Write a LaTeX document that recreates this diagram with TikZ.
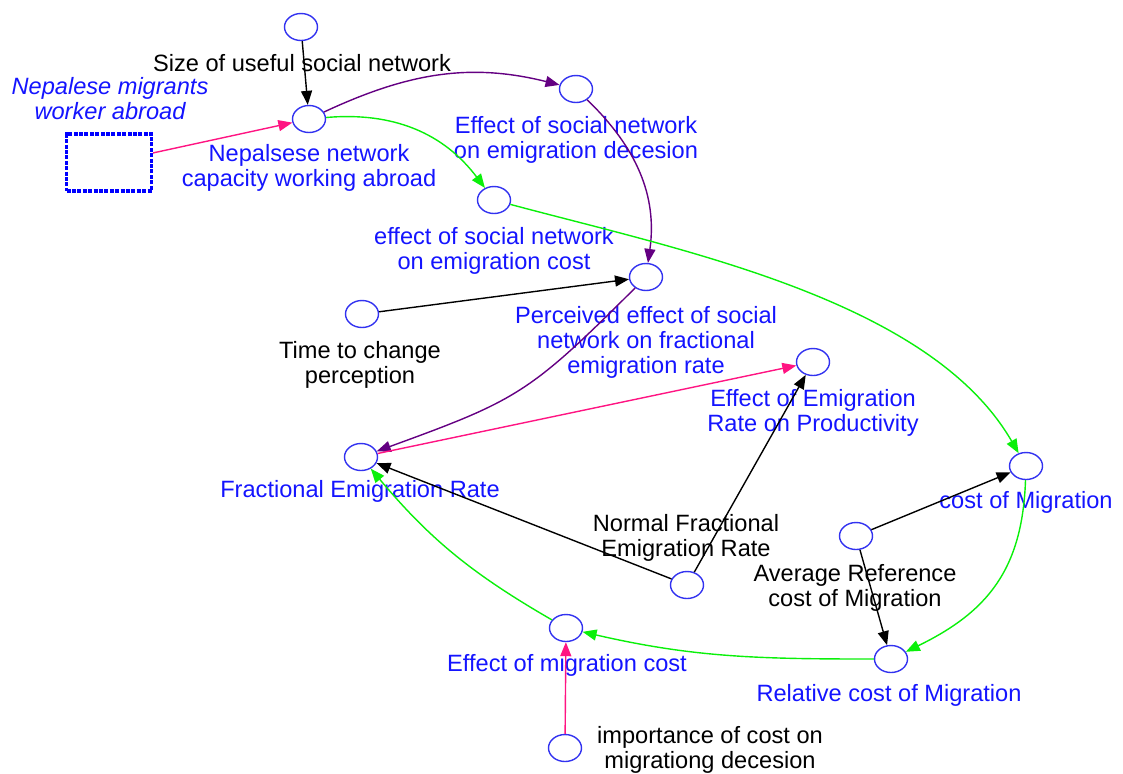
\documentclass[tikz,border=0pt]{standalone}
\usepackage{fontspec}
\setmainfont{Liberation Sans}
\usepgflibrary{shapes.geometric}
\usetikzlibrary{calc,arrows.meta}
\definecolor{txtblue}{RGB}{20,20,255}
\definecolor{auxblue}{RGB}{50,50,240}
\definecolor{lgreen}{RGB}{10,240,10}
\definecolor{lpink}{RGB}{255,20,130}
\definecolor{lpurple}{RGB}{100,0,130}

\begin{document}
\begin{tikzpicture}[x=0.5pt,y=0.5pt,>={Triangle[length=7pt,width=5.5pt]},
	aux/.style={ellipse,draw=auxblue,line width=0.7pt,minimum width=16.5pt,minimum height=13.5pt,inner sep=0pt},
	lab/.style={align=center,inner sep=0pt,text=txtblue,font=\fontsize{11.8}{12.5}\selectfont},
	blab/.style={lab,text=black},
	lnk/.style={->,line width=0.7pt}]
	\useasboundingbox (0,0) rectangle (1123,-773);
	% auxiliaries
	\node[aux] (size) at (301,-27) {};
	\node[aux] (nep) at (309,-119) {};
	\node[aux] (dec) at (576,-89) {};
	\node[aux] (effcost) at (494,-200) {};
	\node[aux] (perc) at (646,-277) {};
	\node[aux] (time) at (362,-314) {};
	\node[aux] (prod) at (813,-362) {};
	\node[aux] (frac) at (361,-457) {};
	\node[aux] (com) at (1026,-466) {};
	\node[aux] (avg) at (856,-536) {};
	\node[aux] (norm) at (687,-585) {};
	\node[aux] (effmc) at (566,-628) {};
	\node[aux] (rel) at (891,-659) {};
	\node[aux] (imp) at (565,-748) {};
	% stock
	\node[draw=blue,line width=1.6pt,dash pattern=on 2pt off 0.7pt,minimum width=42.5pt,minimum height=28.5pt,inner sep=0pt] (stock) at (109,-162.5) {};
	% labels
	\node[blab] (sizeL) at (302,-63) {Size of useful social network};
	\node[lab] (nepL) at (309,-167.5) {Nepalsese network\\capacity working abroad};
	\node[lab,font=\fontsize{11.8}{12.5}\selectfont\itshape] (stockL) at (110,-99) {Nepalese migrants\\worker abroad};
	\node[lab] (decL) at (576,-139.5) {Effect of social network\\on emigration decesion};
	\node[lab] (effcostL) at (494,-250.5) {effect of social network\\on emigration cost};
	\node[lab] (percL) at (646,-342) {Perceived effect of social\\network on fractional\\emigration rate};
	\node[blab] (timeL) at (360,-364.5) {Time to change\\perception};
	\node[lab] (prodL) at (813,-412.5) {Effect of Emigration\\Rate on Productivity};
	\node[lab] (fracL) at (360,-491) {Fractional Emigration Rate};
	\node[lab] (comL) at (1026,-502) {cost of Migration};
	\node[blab] (avgL) at (855,-588) {Average Reference\\cost of Migration};
	\node[blab] (normL) at (686,-537.5) {Normal Fractional\\Emigration Rate};
	\node[lab] (effmcL) at (567,-665) {Effect of migration cost};
	\node[lab] (relL) at (889,-695) {Relative cost of Migration};
	\node[blab] (impL) at (710,-750) {importance of cost on\\migrationg decesion};
	% links
	\draw[lnk] (size) -- (nep);
	\draw[lnk,lpink] (stock) -- (nep);
	\draw[lnk,lpurple] (nep) to[out=25,in=166] (dec);
	\draw[lnk,lgreen] (nep) to[out=5,in=127] (effcost);
	\draw[lnk,lpurple] (dec) to[out=-44,in=82] (perc);
	\draw[lnk,lgreen] (effcost) to[out=-15,in=120,looseness=0.8] (com);
	\draw[lnk] (time) -- (perc);
	\draw[lnk,lpurple] (perc) to[out=-135,in=20,looseness=1.25] (frac);
	\draw[lnk,lpink] (frac) -- (prod);
	\draw[lnk] (norm) -- (frac);
	\draw[lnk] (norm) -- (prod);
	\draw[lnk,lgreen] (effmc) to[out=150,in=-50] (frac);
	\draw[lnk] (avg) -- (com);
	\draw[lnk] (avg) -- (rel);
	\draw[lnk,lgreen] (com) to[out=-92,in=26,looseness=1.1] (rel);
	\draw[lnk,lgreen] (rel) to[out=180,in=-13] (effmc);
	\draw[lnk,lpink] (imp) -- (effmc);
\end{tikzpicture}
\end{document}
